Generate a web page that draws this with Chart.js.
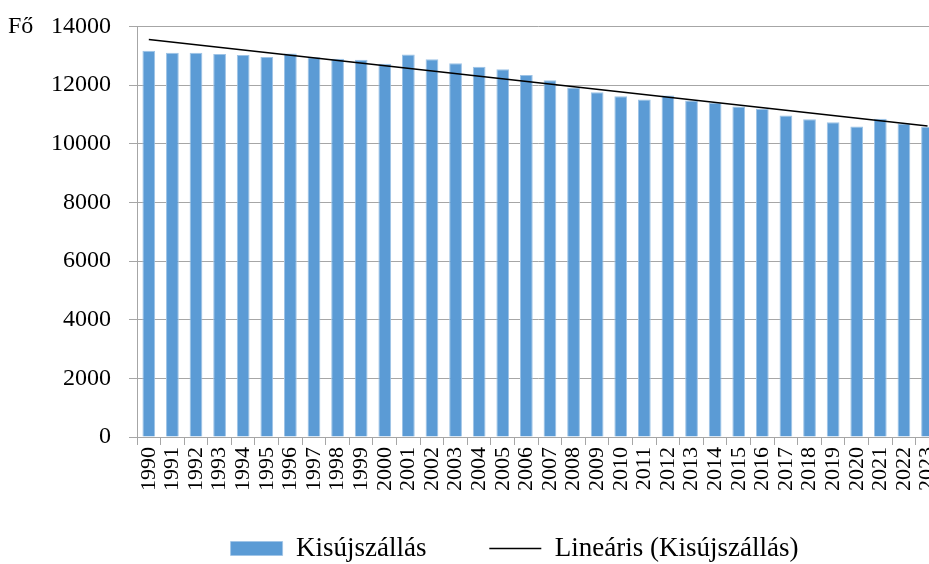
<!DOCTYPE html>
<html lang="hu">
<head>
<meta charset="utf-8">
<title>Kisújszállás</title>
<script src="https://cdn.jsdelivr.net/npm/chart.js@4.4.1/dist/chart.umd.min.js"></script>
<style>
  html, body { margin: 0; padding: 0; background: #fff; overflow: hidden; }
  #wrap { width: 929px; height: 564px; overflow: hidden; }
</style>
</head>
<body>
<div id="wrap"><canvas id="chart" width="956" height="564"></canvas></div>
<script>
// Adatok
const years = [
  "1990", "1991", "1992", "1993", "1994", "1995", "1996", "1997", "1998", "1999",
  "2000", "2001", "2002", "2003", "2004", "2005", "2006", "2007", "2008", "2009",
  "2010", "2011", "2012", "2013", "2014", "2015", "2016", "2017", "2018", "2019",
  "2020", "2021", "2022", "2023"
];
const population = [
  13170, 13100, 13100, 13060, 13025, 12960, 13080, 12950, 12900, 12865,
  12730, 13040, 12880, 12740, 12620, 12540, 12345, 12165, 11915, 11755,
  11620, 11510, 11645, 11475, 11395, 11270, 11190, 10965, 10830, 10735,
  10590, 10850, 10690, 10570
];
// trendvonal két végpontja (1990 és 2023)
const trendStart = 13550;
const trendEnd = 10600;
const yMin = 0;
const yMax = 14000;
const yStep = 2000;

const serif = '"Liberation Serif", "Times New Roman", serif';
const gridColor = "#A6A6A6";

const trend = years.map((_, i) =>
  i === 0 ? trendStart : i === years.length - 1 ? trendEnd : null
);

// "Fő" felirat a tengely tetején
const unitLabel = {
  id: "unitLabel",
  afterDraw(chart) {
    const ctx = chart.ctx;
    ctx.save();
    ctx.font = "24px " + serif;
    ctx.fillStyle = "#000";
    ctx.textBaseline = "middle";
    ctx.fillText("Fő", 8, chart.scales.y.getPixelForValue(yMax));
    ctx.restore();
  },
};

new Chart(document.getElementById("chart"), {
  type: "bar",
  data: {
    labels: years,
    datasets: [
      {
        label: "Kisújszállás",
        data: population,
        backgroundColor: "#5B9BD5",
        borderColor: "#9DC3E6",
        borderWidth: { top: 1, left: 1, right: 1, bottom: 0 },
        barPercentage: 0.54,
        categoryPercentage: 1,
        pointStyle: "rect",
        order: 2,
      },
      {
        type: "line",
        label: "Lineáris (Kisújszállás)",
        data: trend,
        borderColor: "#000",
        borderWidth: 1.5,
        pointRadius: 0,
        spanGaps: true,
        pointStyle: "line",
        order: 1,
      },
    ],
  },
  options: {
    responsive: false,
    animation: false,
    devicePixelRatio: 1,
    layout: { padding: { left: 39, right: 6, top: 0, bottom: -8 } },
    plugins: {
      tooltip: { enabled: false },
      legend: {
        position: "bottom",
        fullSize: false,
        labels: {
          color: "#000",
          font: { family: serif, size: 27 },
          usePointStyle: true,
          pointStyleWidth: 52,
          boxHeight: 14,
          padding: 2,
          sort: (a, b) => a.datasetIndex - b.datasetIndex,
          generateLabels(chart) {
            const items = Chart.defaults.plugins.legend.labels.generateLabels(chart);
            items.forEach((it) => {
              if (it.datasetIndex === 0) it.text += "         ";
              else it.text += "       ";
            });
            return items;
          },
        },
      },
    },
    scales: {
      x: {
        offset: true,
        grid: {
          display: true,
          offset: true,
          drawOnChartArea: false,
          drawTicks: true,
          tickLength: 8,
          color: gridColor,
        },
        border: { display: true, color: gridColor },
        ticks: {
          color: "#000",
          font: { family: serif, size: 22 },
          minRotation: 90,
          maxRotation: 90,
          autoSkip: false,
          padding: 2,
        },
        afterFit(axis) {
          axis.height = axis.height + 40;
        },
      },
      y: {
        min: yMin,
        max: yMax,
        grid: { color: gridColor, tickLength: 8 },
        border: { display: true, color: gridColor },
        ticks: {
          stepSize: yStep,
          color: "#000",
          font: { family: serif, size: 24 },
          padding: 12,
          callback: (v) => v + " ",
        },
      },
    },
  },
  plugins: [unitLabel],
});
</script>
</body>
</html>
